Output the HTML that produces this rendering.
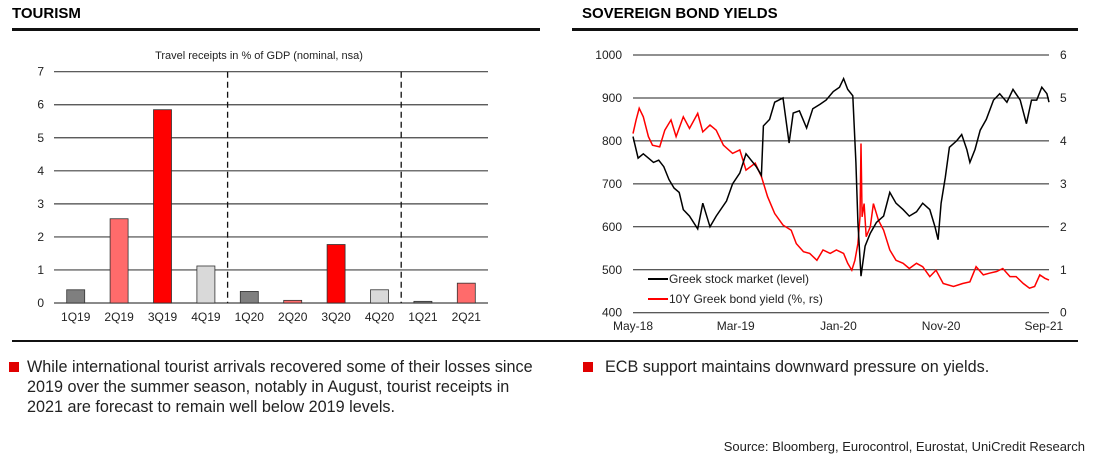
<!DOCTYPE html>
<html><head><meta charset="utf-8">
<style>
body{margin:0;width:1098px;height:472px;background:#fff;font-family:"Liberation Sans",Arial,sans-serif;position:relative;overflow:hidden}
.h{position:absolute;font-weight:bold;font-size:15px;top:5px}
.rule{position:absolute;height:3px;background:#111}
.t{position:absolute;font-size:16.2px;color:#222;white-space:nowrap;line-height:20px}
.b{position:absolute;width:10px;height:10px;background:#e00000}
svg{position:absolute;left:0;top:0}
</style></head><body>
<div class="h" style="left:12px">TOURISM</div>
<div class="h" style="left:582px">SOVEREIGN BOND YIELDS</div>
<div class="rule" style="left:12px;top:28px;width:528px"></div>
<div class="rule" style="left:572px;top:28px;width:506px"></div>
<div class="rule" style="left:12px;top:340px;width:1066px;height:2px"></div>
<svg id="c" width="1098" height="472"></svg>
<div class="b" style="left:9px;top:362px"></div>
<div class="t" style="left:27px;top:357px">While international tourist arrivals recovered some of their losses since<br>2019 over the summer season, notably in August, tourist receipts in<br>2021 are forecast to remain well below 2019 levels.</div>
<div class="b" style="left:583px;top:362px"></div>
<div class="t" style="left:605px;top:357px">ECB support maintains downward pressure on yields.</div>
<div class="t" style="right:13px;top:437px;font-size:13px">Source: Bloomberg, Eurocontrol, Eurostat, UniCredit Research</div>
<script>
const barCats=["1Q19","2Q19","3Q19","4Q19","1Q20","2Q20","3Q20","4Q20","1Q21","2Q21"];
const barVals=[0.4,2.55,5.85,1.12,0.35,0.08,1.77,0.4,0.05,0.6];
const barColors=["#7f7f7f","#ff6b6b","#ff0000","#d9d9d9","#7f7f7f","#ff6b6b","#ff0000","#d9d9d9","#7f7f7f","#ff6b6b"];
const barTicks=[0,1,2,3,4,5,6,7];
const stockM=[0,0.5,1,1.5,2,2.5,3,3.5,4,4.5,4.9,5.5,6.3,6.8,7.5,8.1,9.1,9.7,10.4,11,12,12.5,12.7,13.3,13.8,14.6,15.2,15.6,16.2,16.9,17.5,18.2,18.8,19.5,20.1,20.5,20.9,21.4,21.7,21.9,22.2,22.6,23.1,23.7,24.4,25,25.6,26.3,26.9,27.6,28.2,28.9,29.4,29.7,30,30.4,30.8,31.5,32,32.5,32.8,33.3,33.8,34.4,35.1,35.7,36.4,37,37.7,38.3,38.8,39.3,39.8,40.3,40.5];
const stockV=[810,760,770,760,750,755,740,710,690,680,640,625,595,655,600,625,660,700,725,770,740,720,835,850,890,900,795,865,870,830,875,885,895,915,925,945,920,905,750,610,485,555,585,610,625,680,655,640,625,635,655,640,600,570,655,715,785,800,815,780,750,780,825,850,895,910,890,920,895,840,895,895,925,910,890];
const yieldM=[0,0.3,0.6,1,1.5,1.9,2.6,3.1,3.7,4.2,4.9,5.5,6.3,6.8,7.5,8.1,8.8,9.7,10.4,11,11.9,12.5,13.1,13.8,14.6,15.4,15.9,16.6,17.2,17.9,18.5,19.2,19.8,20.5,20.9,21.3,21.6,21.9,22.1,22.2,22.3,22.5,22.7,23.1,23.4,23.9,24.4,25,25.6,26.3,26.9,27.6,28.2,28.9,29.5,30.2,31.2,32.1,32.8,33.4,34.1,34.7,35.4,36,36.7,37.3,38,38.6,39.1,39.6,40.1,40.5];
const yieldV=[4.17,4.49,4.76,4.56,4.1,3.9,3.86,4.25,4.49,4.1,4.56,4.29,4.64,4.21,4.37,4.25,3.9,3.71,3.79,3.32,3.48,3.17,2.7,2.31,2.04,1.92,1.61,1.42,1.38,1.22,1.46,1.38,1.46,1.38,1.15,0.99,1.22,1.61,2.23,3.94,2.23,2.54,1.77,2.0,2.54,2.15,1.92,1.46,1.22,1.15,1.03,1.15,1.07,0.84,0.99,0.68,0.61,0.68,0.72,1.07,0.88,0.92,0.96,1.03,0.84,0.84,0.68,0.57,0.61,0.88,0.8,0.76];
const leftTicks=[400,500,600,700,800,900,1000];
const rightTicks=[0,1,2,3,4,5,6];
const dateLabels=["May-18","Mar-19","Jan-20","Nov-20","Sep-21"];
const dateLabelM=[0,10,20,30,40];

const svg=document.getElementById('c');const NS="http://www.w3.org/2000/svg";
function el(t,a,txt){const e=document.createElementNS(NS,t);for(const k in a)e.setAttribute(k,a[k]);if(txt!=null)e.textContent=txt;svg.appendChild(e);return e;}
const bx0=54,bx1=488,by0=303,by7=71.7;
const by=v=>by0-(v/7)*(by0-by7);
const bstep=(bx1-bx0)/barCats.length;
const bxc=i=>bx0+bstep*(i+0.5);
let e=el('text',{x:259,y:59,'font-size':11,'text-anchor':'middle',fill:'#222'},'Travel receipts  in % of GDP (nominal, nsa)');

barTicks.forEach(t=>{
 e=el('line',{x1:bx0,x2:bx1,y1:by(t),y2:by(t),stroke:'#444','stroke-width':1.2});
 
 e=el('text',{x:44,y:by(t)+4,'font-size':12,'text-anchor':'end',fill:'#222'},t);
 
});
[4,8].forEach(i=>{const x=bx0+bstep*i;
 e=el('line',{x1:x,x2:x,y1:by7,y2:by0,stroke:'#111','stroke-width':1.3,'stroke-dasharray':'6,4'});
 });
barVals.forEach((v,i)=>{
 e=el('rect',{x:bxc(i)-9,y:by(v),width:18,height:by0-by(v),fill:barColors[i],stroke:'#333','stroke-width':0.8});
 
 e=el('text',{x:bxc(i),y:321,'font-size':12,'text-anchor':'middle',fill:'#222'},barCats[i]);
 
});
const lx0=633,lx1=1049,ly0=312.7,ly1=55;
const lx=m=>lx0+m*(lx1-lx0)/40.5;
const lyL=v=>ly0-(v-400)/600*(ly0-ly1);
const lyR=v=>ly0-v/6*(ly0-ly1);
leftTicks.forEach(t=>{
 e=el('line',{x1:lx0,x2:lx1,y1:lyL(t),y2:lyL(t),stroke:'#222','stroke-width':1});
 
 e=el('text',{x:622,y:lyL(t)+4,'font-size':12,'text-anchor':'end',fill:'#222'},t);
 
});
rightTicks.forEach(t=>{
 e=el('text',{x:1060,y:lyR(t)+4,'font-size':12,'text-anchor':'start',fill:'#222'},t);
 
});
dateLabels.forEach((d,i)=>{
 e=el('text',{x:Math.min(lx(dateLabelM[i]),1045),y:330,'font-size':12,'text-anchor':'middle',fill:'#222'},d);
 
});
e=el('path',{d:yieldM.map((m,i)=>(i?'L':'M')+lx(m).toFixed(1)+','+lyR(yieldV[i]).toFixed(1)).join(''),fill:'none',stroke:'#f00','stroke-width':1.5});

e=el('path',{d:stockM.map((m,i)=>(i?'L':'M')+lx(m).toFixed(1)+','+lyL(stockV[i]).toFixed(1)).join(''),fill:'none',stroke:'#000','stroke-width':1.5});

e=el('line',{x1:648,x2:668,y1:279,y2:279,stroke:'#000','stroke-width':2});

e=el('text',{x:669,y:283,'font-size':12,fill:'#222'},'Greek stock market (level)');

e=el('line',{x1:648,x2:668,y1:299,y2:299,stroke:'#f00','stroke-width':2});

e=el('text',{x:669,y:303,'font-size':12,fill:'#222'},'10Y Greek bond yield (%, rs)');

</script>
</body></html>
